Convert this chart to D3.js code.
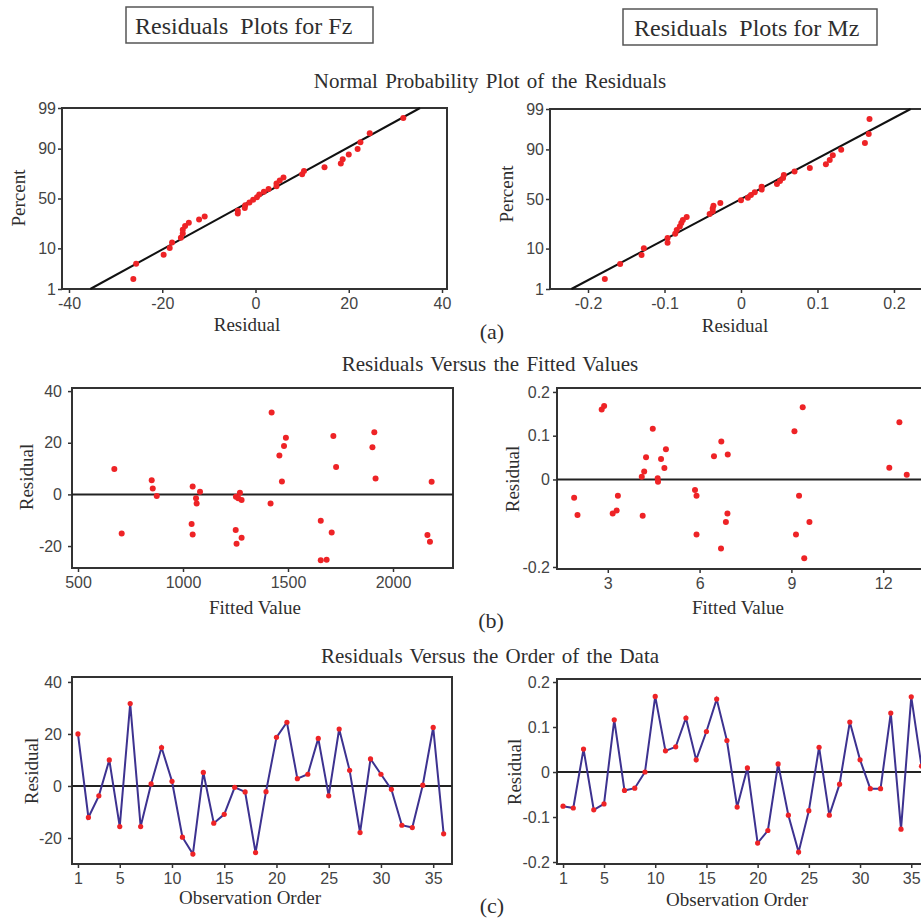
<!DOCTYPE html>
<html>
<head>
<meta charset="utf-8">
<script src="https://cdn.jsdelivr.net/npm/d3@7"></script>
<style>
  html, body { margin: 0; padding: 0; background: #fff; }
  svg { display: block; }
  .tick text { font-family: "Liberation Sans", Arial, sans-serif; font-size: 16px; fill: #444; }
  .tick line { stroke: #333; stroke-width: 1.5; }
  .domain { display: none; }
  .serif { font-family: "Liberation Serif", "Times New Roman", serif; fill: #2e2e2e; }
</style>
</head>
<body>
<svg id="chart" width="921" height="921"></svg>
<script>
// ---------------- DATA ----------------
const observationOrder = d3.range(1, 37);
// Residuals in observation order
const fzResidualsByOrder = [20, -12.1, -3.8, 10, -15.6, 31.7, -15.6, 0.8, 14.8, 1.8, -19.7, -26.2,
  5.2, -14.3, -10.9, -0.5, -2.3, -25.6, -2.2, 18.7, 24.5, 2.8, 4.5, 18.3,
  -3.8, 21.9, 6.0, -17.9, 10.4, 4.5, -1.3, -15.1, -16.0, 0.3, 22.5, -18.4];
const mzResidualsByOrder = [-0.076, -0.080, 0.051, -0.084, -0.071, 0.116, -0.041, -0.036, 0.0, 0.168, 0.047, 0.056,
  0.120, 0.027, 0.090, 0.162, 0.070, -0.078, 0.009, -0.158, -0.130, 0.018, -0.096, -0.178,
  -0.086, 0.055, -0.096, -0.027, 0.111, 0.027, -0.037, -0.037, 0.131, -0.127, 0.167, 0.013];
// Residuals vs fitted values
const fzFitted = [673, 708, 851, 856, 875, 1046, 1041, 1046, 1062, 1065, 1081, 1271, 1252, 1263, 1279, 1251, 1255, 1279,
  1422, 1417, 1459, 1481, 1490, 1471, 1656, 1656, 1684, 1716, 1708, 1729, 1902, 1911, 1917, 2164, 2176, 2184];
const fzFittedResid = [9.8, -15.1, 5.5, 2.3, -0.6, 3.1, -11.5, -15.5, -1.5, -3.5, 1.0, 0.6, -0.9, -1.5, -2.2, -13.8, -19.1, -16.8,
  31.7, -3.5, 15.1, 18.7, 21.9, 5.0, -10.2, -25.5, -25.3, 22.6, -14.8, 10.6, 18.3, 24.1, 6.2, -15.7, -18.3, 4.9];
const mzFitted = [1.90, 2.01, 2.80, 2.88, 3.16, 3.29, 3.33, 4.14, 4.11, 4.19, 4.25, 4.47, 4.63, 4.64, 4.74, 4.85, 4.90,
  5.85, 5.90, 5.90, 6.47, 6.71, 6.70, 6.86, 6.91, 6.92, 9.10, 9.37, 9.15, 9.25, 9.59, 9.42, 12.20, 12.53, 12.77];
const mzFittedResid = [-0.042, -0.081, 0.160, 0.168, -0.078, -0.071, -0.037, -0.083, 0.006, 0.018, 0.051, 0.116, 0.003, -0.005, 0.047, 0.026, 0.069,
  -0.024, -0.037, -0.126, 0.053, 0.087, -0.158, -0.097, -0.078, 0.057, 0.110, 0.165, -0.126, -0.037, -0.097, -0.180, 0.027, 0.131, 0.011];
// Tick labels
const percentTicks = [1, 10, 50, 90, 99];
const fzResidualTicks = [-40, -20, 0, 20, 40];
const mzResidualTicks = [-0.2, -0.1, 0, 0.1, 0.2];
const fzYTicks = [-20, 0, 20, 40];
const mzFittedYTicks = [-0.2, 0, 0.1, 0.2];
const mzOrderYTicks = [-0.2, -0.1, 0, 0.1, 0.2];
const fzFittedTicks = [500, 1000, 1500, 2000];
const mzFittedTicks = [3, 6, 9, 12];
const orderTicks = [1, 5, 10, 15, 20, 25, 30, 35];

// ---------------- HELPERS ----------------
function probit(p) {
  const a = [-3.969683028665376e+01, 2.209460984245205e+02, -2.759285104469687e+02, 1.383577518672690e+02, -3.066479806614716e+01, 2.506628277459239e+00];
  const b = [-5.447609879822406e+01, 1.615858368580409e+02, -1.556989798598866e+02, 6.680131188771972e+01, -1.328068155288572e+01];
  const c = [-7.784894002430293e-03, -3.223964580411365e-01, -2.400758277161838e+00, -2.549732539343734e+00, 4.374664141464968e+00, 2.938163982698783e+00];
  const d = [7.784695709041462e-03, 3.224671290700398e-01, 2.445134137142996e+00, 3.754408661907416e+00];
  const pl = 0.02425, ph = 1 - pl;
  let q, r;
  if (p < pl) { q = Math.sqrt(-2 * Math.log(p));
    return (((((c[0]*q+c[1])*q+c[2])*q+c[3])*q+c[4])*q+c[5]) / ((((d[0]*q+d[1])*q+d[2])*q+d[3])*q+1); }
  if (p <= ph) { q = p - 0.5; r = q*q;
    return (((((a[0]*r+a[1])*r+a[2])*r+a[3])*r+a[4])*r+a[5])*q / (((((b[0]*r+b[1])*r+b[2])*r+b[3])*r+b[4])*r+1); }
  q = Math.sqrt(-2 * Math.log(1 - p));
  return -(((((c[0]*q+c[1])*q+c[2])*q+c[3])*q+c[4])*q+c[5]) / ((((d[0]*q+d[1])*q+d[2])*q+d[3])*q+1);
}

const svg = d3.select("#chart");
const RED = "#ee2326";
const NAVY = "#3d3290";
const fmt = d => String(+d.toFixed(3));

function serifText(x, y, txt, size, anchor, extra) {
  const t = svg.append("text").attr("class", "serif").attr("x", x).attr("y", y)
    .attr("font-size", size).attr("text-anchor", anchor || "middle").text(txt);
  if (extra) extra(t);
  return t;
}

function frame(g, x0, x1, y0, y1) {
  g.append("rect").attr("x", x0).attr("y", y0).attr("width", x1 - x0).attr("height", y1 - y0)
    .attr("fill", "none").attr("stroke", "#333").attr("stroke-width", 2);
}

function axes(g, x, y, xTicks, yTicks, xFmt, yFmt, y1, x0, yPad) {
  g.append("g").attr("transform", `translate(0,${y1})`)
    .call(d3.axisBottom(x).tickValues(xTicks).tickFormat(xFmt).tickSize(4).tickPadding(5));
  g.append("g").attr("transform", `translate(${x0},0)`)
    .call(d3.axisLeft(y).tickValues(yTicks).tickFormat(yFmt).tickSize(4).tickPadding(yPad));
}

function yLabel(x, y, txt) {
  svg.append("text").attr("class", "serif").attr("font-size", 19).attr("text-anchor", "middle")
    .attr("transform", `translate(${x},${y}) rotate(-90)`).text(txt);
}

// ---------------- NORMAL PROBABILITY PLOTS ----------------
function normalPlot(res, L) {
  const g = svg.append("g");
  const x = d3.scaleLinear().domain(L.xd).range([L.x0, L.x1]);
  const z = d3.scaleLinear().domain([probit(0.01), probit(0.99)]).range([L.y1, L.y0]);
  const sorted = res.slice().sort((a, b) => a - b);
  const n = sorted.length;
  const mean = d3.mean(sorted), sd = d3.deviation(sorted);
  frame(g, L.x0, L.x1, L.y0, L.y1);
  g.append("line")
    .attr("x1", x(mean + sd * probit(0.01))).attr("y1", z(probit(0.01)))
    .attr("x2", x(mean + sd * probit(0.99))).attr("y2", z(probit(0.99)))
    .attr("stroke", "#111").attr("stroke-width", 2);
  g.selectAll("circle.p").data(sorted).join("circle")
    .attr("cx", d => x(d)).attr("cy", (d, i) => z(probit((i + 1 - 0.3) / (n + 0.4))))
    .attr("r", 3).attr("fill", RED);
  axes(g, x, z, L.xt, percentTicks.map(p => probit(p / 100)), fmt, (d, i) => percentTicks[i], L.y1, L.x0, L.yPad);
}

// ---------------- FITTED PLOTS ----------------
function scatterPlot(xs, ys, L) {
  const g = svg.append("g");
  const x = d3.scaleLinear().domain(L.xd).range([L.x0, L.x1]);
  const y = d3.scaleLinear().domain(L.yd).range([L.y1, L.y0]);
  frame(g, L.x0, L.x1, L.y0, L.y1);
  g.append("line").attr("x1", L.x0).attr("x2", L.x1).attr("y1", y(0)).attr("y2", y(0))
    .attr("stroke", "#222").attr("stroke-width", 2);
  g.selectAll("circle.p").data(xs).join("circle")
    .attr("cx", d => x(d)).attr("cy", (d, i) => y(ys[i])).attr("r", 3).attr("fill", RED);
  axes(g, x, y, L.xt, L.yt, fmt, fmt, L.y1, L.x0, L.yPad);
}

// ---------------- ORDER PLOTS ----------------
function orderPlot(res, L) {
  const g = svg.append("g");
  const x = d3.scaleLinear().domain(L.xd).range([L.x0, L.x1]);
  const y = d3.scaleLinear().domain(L.yd).range([L.y1, L.y0]);
  frame(g, L.x0, L.x1, L.y0, L.y1);
  g.append("line").attr("x1", L.x0).attr("x2", L.x1).attr("y1", y(0)).attr("y2", y(0))
    .attr("stroke", "#222").attr("stroke-width", 2);
  g.append("path").datum(res)
    .attr("d", d3.line().x((d, i) => x(observationOrder[i])).y(d => y(d)))
    .attr("fill", "none").attr("stroke", NAVY).attr("stroke-width", 2);
  g.selectAll("circle.p").data(res).join("circle")
    .attr("cx", (d, i) => x(observationOrder[i])).attr("cy", d => y(d)).attr("r", 2.6).attr("fill", RED);
  axes(g, x, y, orderTicks, L.yt, fmt, fmt, L.y1, L.x0, L.yPad);
}

// ---------------- TITLES ----------------
svg.append("rect").attr("x", 126).attr("y", 7).attr("width", 247).attr("height", 36)
  .attr("fill", "none").attr("stroke", "#555").attr("stroke-width", 1.5);
serifText(135, 34, "Residuals\u00a0 Plots for Fz", 24, "start");
svg.append("rect").attr("x", 623).attr("y", 9).attr("width", 254).attr("height", 36)
  .attr("fill", "none").attr("stroke", "#555").attr("stroke-width", 1.5);
serifText(634, 36, "Residuals\u00a0 Plots for Mz", 24, "start");

serifText(490, 88, "Normal Probability Plot of the Residuals", 21, "middle", t => t.attr("word-spacing", 2));
serifText(490, 371, "Residuals Versus the Fitted Values", 21, "middle", t => t.attr("word-spacing", 2));
serifText(490, 663, "Residuals Versus the Order of the Data", 21, "middle", t => t.attr("word-spacing", 2));

// Panels
normalPlot(fzResidualsByOrder, { x0: 62, x1: 447, y0: 108, y1: 289, xd: [-41.5, 41.07], xt: fzResidualTicks, yPad: 2 });
normalPlot(mzResidualsByOrder, { x0: 550, x1: 930, y0: 109, y1: 289, xd: [-0.2497, 0.2471], xt: mzResidualTicks, yPad: 2 });

scatterPlot(fzFitted, fzFittedResid, { x0: 72, x1: 453, y0: 388, y1: 568, xd: [471.4, 2285.7], yd: [-28.5, 41.2], xt: fzFittedTicks, yt: fzYTicks, yPad: 6 });
scatterPlot(mzFitted, mzFittedResid, { x0: 557, x1: 930, y0: 388, y1: 569, xd: [1.34, 13.53], yd: [-0.2046, 0.209], xt: mzFittedTicks, yt: mzFittedYTicks, yPad: 3 });

orderPlot(fzResidualsByOrder, { x0: 72, x1: 452, y0: 677, y1: 864, xd: [0.43, 36.8], yd: [-30, 41.9], yt: fzYTicks, yPad: 6 });
orderPlot(mzResidualsByOrder, { x0: 557, x1: 930, y0: 679, y1: 864, xd: [0.41, 36.83], yd: [-0.2044, 0.2067], yt: mzOrderYTicks, yPad: 3 });

// Axis labels
yLabel(25, 198, "Percent");
yLabel(513, 194, "Percent");
yLabel(33, 477, "Residual");
yLabel(519, 479, "Residual");
yLabel(38, 771, "Residual");
yLabel(521, 772, "Residual");

serifText(247, 331, "Residual", 19);
serifText(735, 332, "Residual", 19);
serifText(255, 614, "Fitted Value", 19);
serifText(738, 614, "Fitted Value", 19);
serifText(250, 904, "Observation Order", 19);
serifText(737, 906, "Observation Order", 19);

serifText(492, 339, "(a)", 22);
serifText(491, 628, "(b)", 22);
serifText(492, 913, "(c)", 22);
</script>
</body>
</html>
